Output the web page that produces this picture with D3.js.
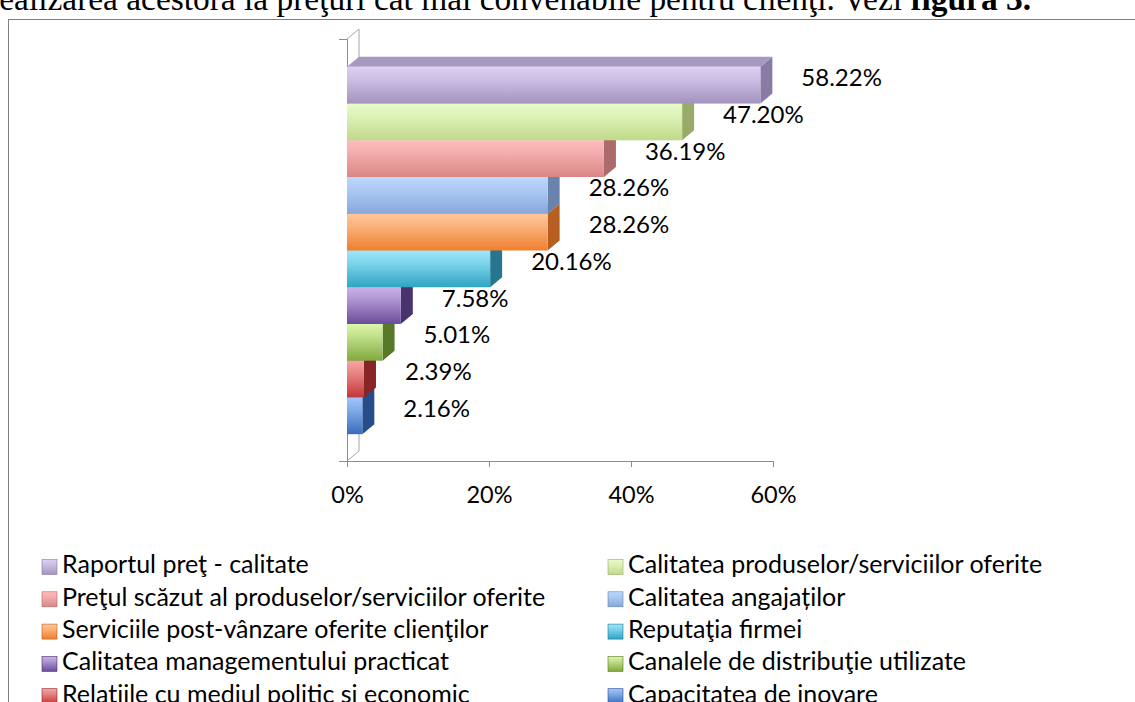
<!DOCTYPE html>
<html>
<head>
<meta charset="utf-8">
<script src="https://cdn.jsdelivr.net/npm/d3@7"></script>
<style>
  body { margin: 0; background: #fff; overflow: hidden; }
  svg { display: block; }
  .chart text { font-family: Lato, "Open Sans", sans-serif; fill: #000; }
</style>
</head>
<body>
<svg id="chart" width="1135" height="702"></svg>
<script>
// series, top to bottom as drawn in the chart
const categories = [
  "Raportul preţ - calitate",
  "Calitatea produselor/serviciilor oferite",
  "Preţul scăzut al produselor/serviciilor oferite",
  "Calitatea angajaților",
  "Serviciile post-vânzare oferite clienţilor",
  "Reputaţia firmei",
  "Calitatea managementului practicat",
  "Canalele de distribuţie utilizate",
  "Relațiile cu mediul politic si economic",
  "Capacitatea de inovare"
];
const values = [58.22, 47.20, 36.19, 28.26, 28.26, 20.16, 7.58, 5.01, 2.39, 2.16];
const tickValues = [0, 20, 40, 60];

// light top / dark bottom of the front face, then side and top faces
const colors = [
  {top: "#ded0f4", bottom: "#a393be", side: "#8a7ba6", cap: "#a698bf"},
  {top: "#e8fcc8", bottom: "#c1d98b", side: "#98ab68", cap: "#b9cc8a"},
  {top: "#ffbcbc", bottom: "#d98686", side: "#ad6a6a", cap: "#d59a9a"},
  {top: "#bcd8ff", bottom: "#88a7db", side: "#6983ac", cap: "#9fb6db"},
  {top: "#ffc79a", bottom: "#ef7f2e", side: "#b75f20", cap: "#e99a5a"},
  {top: "#9ee6fb", bottom: "#2ea5c5", side: "#277690", cap: "#5fb9d2"},
  {top: "#cab3e6", bottom: "#6a4c9b", side: "#48336d", cap: "#8c74b3"},
  {top: "#dbf6aa", bottom: "#80a93d", side: "#58782a", cap: "#9cbc62"},
  {top: "#f8a4a4", bottom: "#c33636", side: "#882626", cap: "#d66a6a"},
  {top: "#a0c6fb", bottom: "#386cbd", side: "#274c8a", cap: "#6a92d0"}
];

const svg = d3.select("#chart").attr("class", "chart");
const depthX = 12, depthY = 10;

// text line above the chart box (cut off by the page edge)
const intro = svg.append("text")
  .attr("x", 1031).attr("y", 10)
  .attr("text-anchor", "end")
  .style("font-family", "'Liberation Serif', 'DejaVu Serif', serif")
  .style("font-size", "25px");
intro.append("tspan").text("realizarea acestora la preţuri cât mai convenabile pentru clienţi. Vezi ");
intro.append("tspan").style("font-weight", "bold").text("figura 3.");
// scale the line so it runs from just left of the page edge to x=1031
const introLen = intro.node().getComputedTextLength();
intro.style("font-size", (25 * 1043 / introLen) + "px");

// chart frame
svg.append("rect")
  .attr("x", 8.5).attr("y", 19.5)
  .attr("width", 1200).attr("height", 800)
  .attr("fill", "none").attr("stroke", "#7f7f7f");

const x = d3.scaleLinear().domain([0, 60]).range([347, 773]);
const y = d3.scaleBand().domain(categories).range([40, 461])
  .paddingInner(0).paddingOuter(0.73);

const defs = svg.append("defs");
colors.forEach((c, i) => {
  const g = defs.append("linearGradient").attr("id", "grad" + i)
    .attr("x1", 0).attr("y1", 0).attr("x2", 0).attr("y2", 1);
  g.append("stop").attr("offset", "0%").attr("stop-color", c.top);
  g.append("stop").attr("offset", "35%").attr("stop-color", d3.interpolateRgb(c.top, c.bottom)(0.3));
  g.append("stop").attr("offset", "100%").attr("stop-color", c.bottom);
});

const axisColor = "#8c8c8c";

// back wall + floor edge
svg.append("path")
  .attr("d", `M${x(0)},${y.range()[0] - 1}l${depthX},${-depthY}V${y.range()[1] - depthY}l${-depthX},${depthY}`)
  .attr("fill", "none").attr("stroke", "#a6a6a6");

// vertical axis (no labels)
const yAxisScale = d3.scaleLinear().domain([0, 1]).range([y.range()[1], y.range()[0] - 1]);
svg.append("g")
  .attr("transform", `translate(${x(0)},0)`)
  .call(d3.axisLeft(yAxisScale).tickValues([]).tickSizeOuter(8))
  .call(g => g.select(".domain").attr("stroke", axisColor));

// bars, bottom first so upper bars cover hidden faces
const data = categories.map((c, i) => ({name: c, value: values[i], i}));
const bars = svg.append("g").selectAll("g")
  .data(data.slice().reverse())
  .join("g");

bars.append("path")
  .attr("fill", d => colors[d.i].side)
  .attr("d", d => {
    const x1 = x(d.value), y0 = y(d.name), y1 = y0 + y.bandwidth();
    return `M${x1},${y0}l${depthX},${-depthY}V${y1 - depthY}L${x1},${y1}Z`;
  });
bars.append("path")
  .attr("fill", d => colors[d.i].cap)
  .attr("d", d => {
    const y0 = y(d.name);
    return `M${x(0)},${y0}l${depthX},${-depthY}H${x(d.value) + depthX}L${x(d.value)},${y0}Z`;
  });
bars.append("rect")
  .attr("x", x(0))
  .attr("y", d => y(d.name))
  .attr("width", d => x(d.value) - x(0))
  .attr("height", y.bandwidth())
  .attr("fill", d => `url(#grad${d.i})`);

// value labels
svg.append("g").selectAll("text")
  .data(data)
  .join("text")
  .attr("x", d => x(d.value) + depthX + 29)
  .attr("y", d => y(d.name) + y.bandwidth() / 2 - 5)
  .attr("dominant-baseline", "middle")
  .style("font-size", "24px")
  .text(d => d.value.toFixed(2) + "%");

// horizontal axis
svg.append("g")
  .attr("transform", `translate(0,${y.range()[1]})`)
  .call(d3.axisBottom(x).tickValues(tickValues).tickFormat(d => d + "%")
    .tickSize(6).tickPadding(19))
  .call(g => g.selectAll("line,.domain").attr("stroke", axisColor))
  .call(g => g.selectAll("text")
    .style("font-family", "Lato, 'Open Sans', sans-serif")
    .style("font-size", "23.5px").attr("fill", "#000"));

// legend, two columns
const legend = svg.append("g").selectAll("g")
  .data(data)
  .join("g")
  .attr("transform", d => `translate(${d.i % 2 ? 608 : 42},${567 + Math.floor(d.i / 2) * 32.3})`);
legend.append("rect")
  .attr("x", 0).attr("y", -7.5)
  .attr("width", 15).attr("height", 15)
  .attr("fill", d => `url(#grad${d.i})`)
  .attr("stroke", d => colors[d.i].side).attr("stroke-width", 0.6);
legend.append("text")
  .attr("x", 20).attr("y", 0)
  .attr("dominant-baseline", "middle")
  .style("font-size", "25px")
  .text(d => d.name);
</script>
</body>
</html>
